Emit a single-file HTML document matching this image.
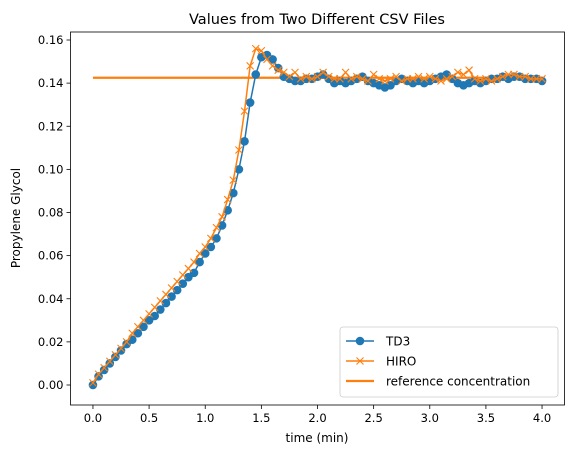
<!DOCTYPE html>
<html><head><meta charset="utf-8"><style>
body{margin:0;background:#fff;font-family:"Liberation Sans","DejaVu Sans",sans-serif}
svg text{font-family:"DejaVu Sans","Liberation Sans",sans-serif;fill:#000}
</style></head><body>
<svg id="c" width="576" height="455"></svg>
<script>
const tdVals=[0.000,0.004,0.007,0.010,0.013,0.016,0.019,0.021,0.024,0.027,0.030,0.032,0.035,0.038,0.041,0.044,0.047,0.050,0.052,0.057,0.061,0.064,0.068,0.074,0.081,0.089,0.100,0.113,0.131,0.144,0.152,0.153,0.151,0.147,0.143,0.142,0.141,0.141,0.142,0.142,0.143,0.144,0.142,0.140,0.141,0.140,0.141,0.142,0.143,0.141,0.140,0.139,0.138,0.139,0.141,0.142,0.141,0.140,0.141,0.140,0.141,0.142,0.143,0.144,0.142,0.140,0.139,0.140,0.141,0.140,0.141,0.142,0.142,0.143,0.142,0.143,0.143,0.142,0.142,0.142,0.141];
const hiroVals=[0.001,0.005,0.008,0.011,0.014,0.017,0.020,0.024,0.027,0.030,0.033,0.036,0.039,0.042,0.045,0.048,0.051,0.054,0.057,0.061,0.064,0.068,0.073,0.078,0.086,0.095,0.109,0.127,0.148,0.156,0.155,0.151,0.148,0.146,0.145,0.143,0.145,0.142,0.143,0.142,0.143,0.145,0.143,0.142,0.142,0.145,0.142,0.143,0.142,0.141,0.144,0.142,0.141,0.142,0.143,0.141,0.142,0.142,0.143,0.142,0.143,0.142,0.141,0.142,0.143,0.145,0.144,0.146,0.142,0.141,0.142,0.141,0.142,0.143,0.144,0.144,0.143,0.143,0.142,0.142,0.142];
const refValue=0.1425;
const xTicks=[0.0,0.5,1.0,1.5,2.0,2.5,3.0,3.5,4.0];
const yTicks=[0.00,0.02,0.04,0.06,0.08,0.10,0.12,0.14,0.16];
const dt=0.05;
const L=70.5,R=564.5,T=32,B=405;
const xs=v=>L+(v+0.2)/4.4*(R-L);
const ys=v=>385-v*2156.25;
const svg=document.getElementById('c');
const NS='http://www.w3.org/2000/svg';
function mk(tag,attrs,parent){const e=document.createElementNS(NS,tag);for(const k in attrs)e.setAttribute(k,attrs[k]);(parent||svg).appendChild(e);return e;}
let t=mk('text',{x:317,y:24,'font-size':14.5,'text-anchor':'middle'});t.textContent='Values from Two Different CSV Files';


xTicks.forEach(v=>{const x=xs(v);const g=mk('g',{});


mk('line',{x1:x,x2:x,y1:B,y2:B+4,stroke:'#000','stroke-width':0.8},g);
const tt=mk('text',{x:x,y:B+17,'font-size':11.5,'text-anchor':'middle'},g);tt.textContent=v.toFixed(1);});
yTicks.forEach(v=>{const y=ys(v);const g=mk('g',{});


mk('line',{x1:L-4,x2:L,y1:y,y2:y,stroke:'#000','stroke-width':0.8},g);
const tt=mk('text',{x:L-7,y:y+4,'font-size':11.5,'text-anchor':'end'},g);tt.textContent=v.toFixed(2);});
t=mk('text',{x:317,y:442,'font-size':12,'text-anchor':'middle'});t.textContent='time (min)';


t=mk('text',{x:20,y:218,'font-size':12,'text-anchor':'middle',transform:'rotate(-90 20 218)'});t.textContent='Propylene Glycol';


let rl=mk('line',{x1:xs(0),x2:xs(4),y1:ys(refValue),y2:ys(refValue),stroke:'#ff7f0e','stroke-width':2.2});


let p=tdVals.map((v,i)=>xs(i*dt)+','+ys(v)).join(' ');
let pl=mk('polyline',{points:p,fill:'none',stroke:'#1f77b4','stroke-width':1.5});


tdVals.forEach((v,i)=>{const c=mk('circle',{cx:xs(i*dt),cy:ys(v),r:4.3,fill:'#1f77b4'});

});
p=hiroVals.map((v,i)=>xs(i*dt)+','+ys(v)).join(' ');
pl=mk('polyline',{points:p,fill:'none',stroke:'#ff7f0e','stroke-width':1.5});


hiroVals.forEach((v,i)=>{const x=xs(i*dt),y=ys(v),s=3.5;
const m=mk('path',{d:`M${x-s},${y-s}L${x+s},${y+s}M${x-s},${y+s}L${x+s},${y-s}`,stroke:'#ff7f0e','stroke-width':1.1});

});
const fr=mk('rect',{x:L,y:T,width:R-L,height:B-T,fill:'none',stroke:'#000','stroke-width':0.8});


const lg=mk('g',{});


mk('rect',{x:340,y:327,width:218,height:70,rx:3,fill:'#fff','fill-opacity':0.8,stroke:'#ccc','stroke-width':0.8},lg);
const ents=[['TD3','o'],['HIRO','x'],['reference concentration','-']];
ents.forEach((e,i)=>{const y=341+i*20;const g=mk('g',{},lg);


const col=e[1]=='o'?'#1f77b4':'#ff7f0e';
mk('line',{x1:346,x2:374,y1:y,y2:y,stroke:col,'stroke-width':e[1]=='-'?2.2:1.5},g);
if(e[1]=='o')mk('circle',{cx:360,cy:y,r:4.3,fill:col},g);
if(e[1]=='x')mk('path',{d:`M356.5,${y-3.5}L363.5,${y+3.5}M356.5,${y+3.5}L363.5,${y-3.5}`,stroke:col,'stroke-width':1.1},g);
const tx=mk('text',{x:386,y:y+4.5,'font-size':12},g);tx.textContent=e[0];});
</script>
</body></html>
